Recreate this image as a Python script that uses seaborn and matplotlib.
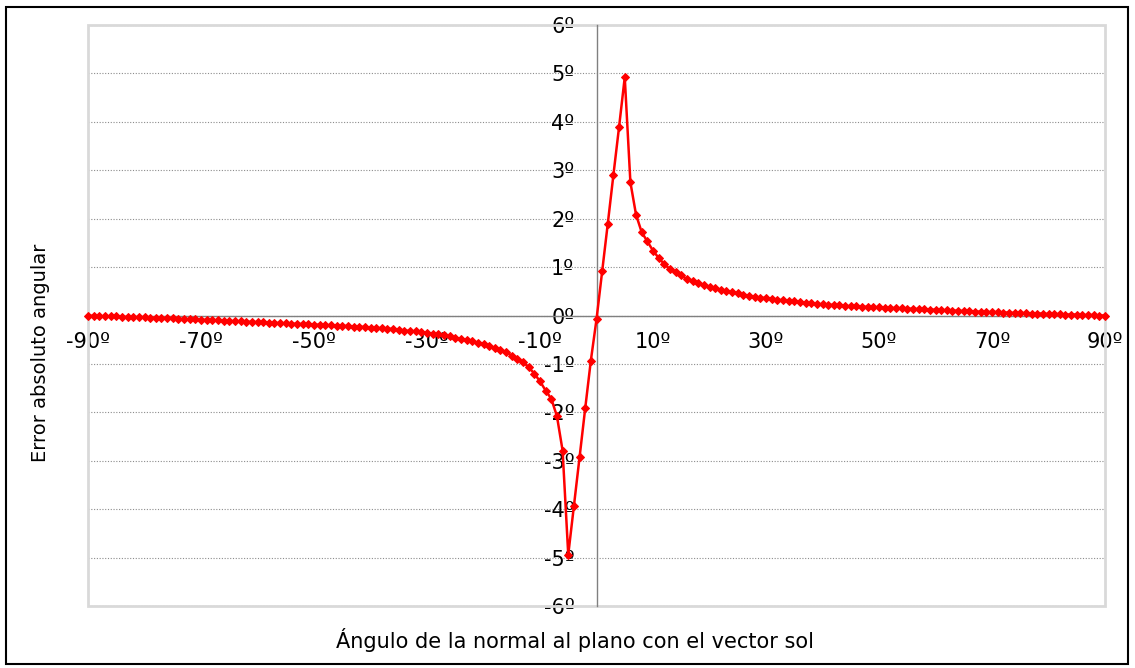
import matplotlib
matplotlib.use("Agg")
import numpy as np
import pandas as pd
import seaborn as sns
import matplotlib.pyplot as plt
from matplotlib.patches import Rectangle

# Angles (x) in degrees, one point per degree
angulos_neg = list(range(-90, 0))
angulos_pos = list(range(0, 91))

# Error, -90 .. -1
error_neg = [
    0.00, -0.01, -0.01, -0.02, -0.02, -0.02, -0.03, -0.03, -0.04, -0.04,
    -0.04, -0.05, -0.05, -0.06, -0.06, -0.06, -0.07, -0.07, -0.08, -0.08,
    -0.09, -0.09, -0.10, -0.10, -0.11, -0.11, -0.12, -0.12, -0.13, -0.13,
    -0.14, -0.14, -0.15, -0.15, -0.16, -0.16, -0.17, -0.17, -0.18, -0.18,
    -0.19, -0.19, -0.20, -0.20, -0.21, -0.21, -0.22, -0.23, -0.23, -0.24,
    -0.25, -0.26, -0.26, -0.27, -0.28, -0.29, -0.31, -0.32, -0.33, -0.35,
    -0.36, -0.38, -0.39, -0.41, -0.43, -0.46, -0.48, -0.51, -0.53, -0.56,
    -0.58, -0.63, -0.67, -0.72, -0.75, -0.83, -0.89, -0.96, -1.07, -1.20,
    -1.36, -1.55, -1.72, -2.08, -2.79, -4.94, -3.94, -2.93, -1.92, -0.93,
]

# Error, 0 .. 90
error_pos = [
    -0.08, 0.91, 1.90, 2.91, 3.90, 4.92, 2.75, 2.08, 1.72, 1.53,
    1.34, 1.19, 1.06, 0.96, 0.89, 0.83, 0.75, 0.72, 0.67, 0.63,
    0.58, 0.56, 0.53, 0.51, 0.48, 0.46, 0.43, 0.41, 0.39, 0.37,
    0.36, 0.35, 0.33, 0.31, 0.30, 0.29, 0.27, 0.26, 0.25, 0.24,
    0.23, 0.22, 0.22, 0.21, 0.20, 0.19, 0.19, 0.18, 0.18, 0.17,
    0.17, 0.16, 0.16, 0.15, 0.15, 0.14, 0.14, 0.13, 0.13, 0.12,
    0.12, 0.11, 0.11, 0.10, 0.10, 0.09, 0.09, 0.08, 0.08, 0.07,
    0.07, 0.07, 0.06, 0.06, 0.05, 0.05, 0.05, 0.04, 0.04, 0.04,
    0.03, 0.03, 0.03, 0.02, 0.02, 0.02, 0.01, 0.01, 0.01, 0.00,
    0.00,
]

x_ticks = [-90, -70, -50, -30, -10, 10, 30, 50, 70, 90]
y_ticks = [-6, -5, -4, -3, -2, -1, 0, 1, 2, 3, 4, 5, 6]
x_labels = [f"{v}º" for v in x_ticks]
y_labels = [f"{v}º" for v in y_ticks]

titulo_x = "Ángulo de la normal al plano con el vector sol"
titulo_y = "Error absoluto angular"

df = pd.DataFrame({
    "angulo": angulos_neg + angulos_pos,
    "error": error_neg + error_pos,
})

sns.set_style("white")
plt.rcParams["font.family"] = ["DejaVu Sans"]

W, H = 1135, 668
fig = plt.figure(figsize=(W / 100, H / 100), dpi=100)
ax = fig.add_axes([88 / W, 1 - 606 / H, (1105 - 88) / W, (606 - 25) / H])

# dotted horizontal gridlines
for v in y_ticks:
    ax.axhline(v, color="#8c8c8c", lw=0.8, ls=(0, (1, 1.5)), zorder=0)

sns.lineplot(
    data=df, x="angulo", y="error", ax=ax,
    color="red", lw=1.8, marker="D", markersize=4,
    markeredgecolor="red", zorder=5, clip_on=False,
)

ax.set_xlim(-90, 90)
ax.set_ylim(-6, 6)

# axes crossing at zero
ax.spines["left"].set_position(("data", 0))
ax.spines["bottom"].set_position(("data", 0))
ax.spines["top"].set_visible(False)
ax.spines["right"].set_visible(False)
for s in ("left", "bottom"):
    ax.spines[s].set_color("#808080")
    ax.spines[s].set_linewidth(1.0)

ax.set_xticks(x_ticks)
ax.set_xticklabels(x_labels)
ax.set_yticks(y_ticks)
ax.set_yticklabels(y_labels)
ax.tick_params(axis="x", direction="out", length=7, width=1, color="#808080",
               pad=5, labelsize=15, labelcolor="black")
ax.tick_params(axis="y", direction="out", length=7, width=1, color="#808080",
               pad=9, labelsize=15, labelcolor="black")
ax.set_xlabel("")
ax.set_ylabel("")

# light gray plot-area frame
ax.add_patch(Rectangle((0, 0), 1, 1, transform=ax.transAxes, fill=False,
                       ec="#d9d9d9", lw=2, clip_on=False, zorder=1))

fig.text(575 / W, 1 - 640 / H, titulo_x, ha="center", va="center",
         fontsize=15, color="black")
fig.text(40 / W, 1 - 353 / H, titulo_y, ha="center", va="center",
         rotation=90, fontsize=14, color="black")

# outer black border
fig.add_artist(Rectangle((6 / W, 4 / H), (1128 - 6) / W, (664 - 7) / H,
                         transform=fig.transFigure, fill=False,
                         ec="black", lw=1.5))

fig.savefig("out.png", dpi=100)
